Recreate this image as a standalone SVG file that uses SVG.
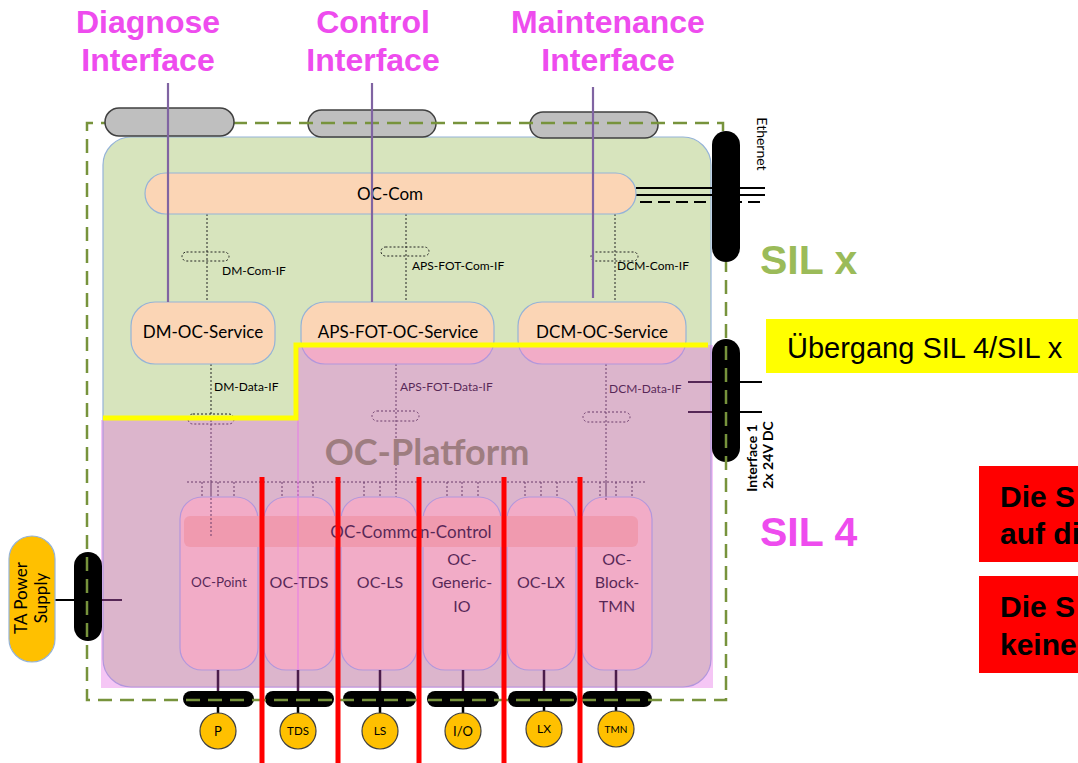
<svg xmlns="http://www.w3.org/2000/svg" width="1078" height="763" viewBox="0 0 1078 763">
<defs>
<style>
.lbl{font-family:Lato,"Open Sans","Liberation Sans",sans-serif;fill:#000}
.t17{font-size:17px}
.t16{font-size:16px}
.t12{font-size:12px}
.title{font-family:"Liberation Sans",Arial,sans-serif;font-weight:bold;font-size:32px;fill:#ee4cee;text-anchor:middle}
.peach{fill:#fbd5b5;stroke:#95b3d7;stroke-width:1.2}
.grey{fill:#bfbfbf;stroke:#404040;stroke-width:1.5}
.dot{stroke:#222;stroke-width:1;stroke-dasharray:2 2;fill:none}
.blk{fill:#000}
.ifl{stroke:#8064a2;stroke-width:2.2}
.red{stroke:#ff0000;stroke-width:5}
.circ{fill:#ffc000;stroke:#404040;stroke-width:1.2}
.ctext{font-family:Lato,"Open Sans",sans-serif;fill:#000;text-anchor:middle}
.mid{text-anchor:middle}
.small{font-family:Lato,"Open Sans",sans-serif;font-size:14px;text-anchor:middle;fill:#000}
.note{font-family:"Liberation Sans",Arial,sans-serif;font-weight:bold;font-size:30px;fill:#000}
</style>
</defs>
<rect width="1078" height="763" fill="#fff"/>

<!-- green SIL x area -->
<rect id="silx-area" x="103" y="137" width="608" height="550" rx="28" fill="#d7e4bd" stroke="#95b3d7" stroke-width="1.2"/>

<!-- connectors under overlay -->
<g id="connectors">
  <line x1="636" y1="188" x2="765" y2="188" stroke="#000" stroke-width="2"/>
  <line x1="636" y1="195" x2="765" y2="195" stroke="#000" stroke-width="2"/>
  <line x1="640" y1="202" x2="765" y2="202" stroke="#000" stroke-width="2" stroke-dasharray="12 6"/>
  <line class="dot" x1="207" y1="214" x2="207" y2="302"/>
  <rect class="dot" x="182" y="252" width="47" height="9" rx="4.5"/>
  <line class="dot" x1="406" y1="214" x2="406" y2="302"/>
  <rect class="dot" x="381" y="247" width="48" height="9" rx="4.5"/>
  <line class="dot" x1="615" y1="214" x2="615" y2="302"/>
  <rect class="dot" x="591" y="252" width="47" height="9" rx="4.5"/>
  <line class="dot" x1="211" y1="364" x2="211" y2="536"/>
  <rect class="dot" x="188" y="414" width="46" height="10" rx="5"/>
  <line class="dot" x1="396" y1="364" x2="396" y2="497"/>
  <rect class="dot" x="372" y="411" width="47" height="10" rx="5"/>
  <line class="dot" x1="606" y1="364" x2="606" y2="500"/>
  <rect class="dot" x="583" y="412" width="47" height="10" rx="5"/>
  <line class="dot" x1="187" y1="482" x2="646" y2="482"/>
  <path class="dot" d="M202,482V497M218,482V497M234,482V497M282,482V497M298,482V497M313,482V497M364,482V497M380,482V497M447,482V497M462,482V497M478,482V497M525,482V497M541,482V497M557,482V497M600,482V497M616,482V497M632,482V497"/>
  <line x1="688" y1="382" x2="762" y2="382" stroke="#000" stroke-width="2.2"/>
  <line x1="688" y1="412" x2="762" y2="412" stroke="#000" stroke-width="2.2"/>
  <line x1="55" y1="600" x2="122" y2="600" stroke="#000" stroke-width="2.2"/>
</g>

<g id="oc-com">
  <rect class="peach" x="145" y="173" width="491" height="41" rx="20.5"/>
  <text class="lbl t17 mid" x="390" y="200">OC-Com</text>
</g>

<g id="dm-oc-service">
  <rect class="peach" x="131" y="302" width="144" height="62" rx="24"/>
  <text class="lbl t17 mid" x="203" y="338">DM-OC-Service</text>
</g>
<g id="aps-fot-oc-service">
  <rect class="peach" x="301" y="302" width="193" height="62" rx="24"/>
  <text class="lbl t17 mid" x="398" y="338">APS-FOT-OC-Service</text>
</g>
<g id="dcm-oc-service">
  <rect class="peach" x="518" y="302" width="168" height="62" rx="24"/>
  <text class="lbl t17 mid" x="602" y="338">DCM-OC-Service</text>
</g>

<g id="if-labels">
  <text class="lbl t12" x="222" y="275">DM-Com-IF</text>
  <text class="lbl t12" x="412" y="270">APS-FOT-Com-IF</text>
  <text class="lbl t12" x="617" y="270">DCM-Com-IF</text>
  <text class="lbl t12" x="214" y="391">DM-Data-IF</text>
  <text class="lbl t12" x="400" y="391">APS-FOT-Data-IF</text>
  <text class="lbl t12" x="609" y="393">DCM-Data-IF</text>
</g>

<g id="modules">
  <g id="oc-point"><rect class="peach" x="180" y="497" width="78" height="173" rx="22"/></g>
  <g id="oc-tds"><rect class="peach" x="264" y="497" width="71" height="173" rx="22"/></g>
  <g id="oc-ls"><rect class="peach" x="341" y="497" width="76" height="173" rx="22"/></g>
  <g id="oc-generic-io"><rect class="peach" x="423" y="497" width="78" height="173" rx="22"/></g>
  <g id="oc-lx"><rect class="peach" x="507" y="497" width="69" height="173" rx="22"/></g>
  <g id="oc-block-tmn"><rect class="peach" x="582" y="497" width="70" height="173" rx="22"/></g>
  <g id="oc-common-control">
    <rect x="184" y="516" width="454" height="31" rx="6" fill="#f7b98f"/>
    <text class="lbl t17 mid" x="411" y="538">OC-Common-Control</text>
  </g>
  <line class="dot" x1="211" y1="482" x2="211" y2="536"/>
  <line class="dot" x1="606" y1="482" x2="606" y2="500"/>
  <text class="lbl mid" font-size="13.5" x="219" y="587">OC-Point</text>
  <text class="lbl t16 mid" x="299" y="588">OC-TDS</text>
  <text class="lbl t16 mid" x="380" y="588">OC-LS</text>
  <text class="lbl t16 mid" x="462" y="565">OC-</text>
  <text class="lbl t16 mid" x="462" y="588">Generic-</text>
  <text class="lbl t16 mid" x="462" y="612">IO</text>
  <text class="lbl t16 mid" x="541" y="588">OC-LX</text>
  <text class="lbl t16 mid" x="617" y="565">OC-</text>
  <text class="lbl t16 mid" x="617" y="588">Block-</text>
  <text class="lbl t16 mid" x="617" y="612">TMN</text>
</g>

<g id="oc-platform">
  <path d="M101,420H298V345H713V688H101Z" fill="rgb(228,103,228)" fill-opacity="0.375"/>
  <line x1="298" y1="345" x2="298" y2="688" stroke="#e77be7" stroke-width="1"/>
  <path d="M103,418H296V345H708" fill="none" stroke="#ffff00" stroke-width="5"/>
  <text x="427" y="465" font-family="Lato,'Open Sans',sans-serif" font-weight="bold" font-size="36" fill="#9e7d80" text-anchor="middle">OC-Platform</text>
</g>

<g id="bottom-links" stroke-width="2.5">
  <path d="M218,670V691M298,670V691M380,670V691M463,670V691M544,670V691M616,670V691" stroke="#4b1d4b"/>
  <path d="M218,707V713M298,707V713M380,707V713M463,707V713M544,707V711M616,707V711" stroke="#000"/>
</g>
<g id="bus-pills">
  <rect class="blk" x="183" y="691" width="71" height="16" rx="8"/>
  <rect class="blk" x="265" y="691" width="69" height="16" rx="8"/>
  <rect class="blk" x="343" y="691" width="73" height="16" rx="8"/>
  <rect class="blk" x="427" y="691" width="72" height="16" rx="8"/>
  <rect class="blk" x="508" y="691" width="69" height="16" rx="8"/>
  <rect class="blk" x="582" y="691" width="70" height="16" rx="8"/>
</g>
<g id="port-p"><circle class="circ" cx="218" cy="731" r="18"/><text class="ctext" font-size="13" x="218" y="736">P</text></g>
<g id="port-tds"><circle class="circ" cx="298" cy="731" r="18"/><text class="ctext" font-size="11.5" x="298" y="735">TDS</text></g>
<g id="port-ls"><circle class="circ" cx="380" cy="731" r="18"/><text class="ctext" font-size="12" x="380" y="735">LS</text></g>
<g id="port-io"><circle class="circ" cx="463" cy="731" r="18"/><text class="ctext" font-size="13" x="463" y="736">I/O</text></g>
<g id="port-lx"><circle class="circ" cx="544" cy="729" r="18"/><text class="ctext" font-size="12" x="544" y="733">LX</text></g>
<g id="port-tmn"><circle class="circ" cx="616" cy="729" r="18"/><text class="ctext" font-size="10" x="616" y="733">TMN</text></g>

<g id="ta-power-supply">
  <rect x="9" y="536" width="46" height="126" rx="23" fill="#ffc000" stroke="#95b3d7" stroke-width="1.2"/>
  <text class="lbl mid" font-size="17" transform="translate(27,598) rotate(-90)">TA Power</text>
  <text class="lbl mid" font-size="17" transform="translate(47,598) rotate(-90)">Supply</text>
</g>
<g id="power-connector"><rect class="blk" x="74" y="552" width="28" height="89" rx="14"/></g>
<g id="interface-1">
  <rect class="blk" x="712" y="339" width="28" height="123" rx="14"/>
  <text class="small" font-weight="bold" transform="translate(757,458) rotate(-90)">Interface 1</text>
  <text class="small" font-weight="bold" transform="translate(773,455) rotate(-90)">2x 24V DC</text>
</g>

<g id="grey-2"><rect class="grey" x="308" y="110" width="128" height="27" rx="13.5"/></g>
<g id="grey-3"><rect class="grey" x="530" y="112" width="128" height="26" rx="13"/></g>

<path id="enclosure" d="M723,131V123H87V700H726V262" fill="none" stroke="#77933c" stroke-width="2.5" stroke-dasharray="14 8"/>

<g id="grey-1"><rect class="grey" x="105" y="108" width="129" height="28" rx="14"/></g>
<g id="ethernet">
  <rect class="blk" x="712" y="131" width="28" height="131" rx="14"/>
  <text class="small" transform="translate(757,144) rotate(90)">Ethernet</text>
</g>

<g id="interface-lines">
  <line class="ifl" x1="168" y1="83" x2="168" y2="302"/>
  <line class="ifl" x1="372" y1="83" x2="372" y2="302"/>
  <line class="ifl" x1="593" y1="87" x2="593" y2="298"/>
</g>

<g id="red-lines">
  <line class="red" x1="262" y1="477" x2="262" y2="763"/>
  <line class="red" x1="338" y1="477" x2="338" y2="763"/>
  <line class="red" x1="419" y1="477" x2="419" y2="763"/>
  <line class="red" x1="504" y1="477" x2="504" y2="763"/>
  <line class="red" x1="580" y1="477" x2="580" y2="763"/>
</g>

<g id="titles">
  <text class="title" x="148" y="33">Diagnose</text>
  <text class="title" x="148" y="71">Interface</text>
  <text class="title" x="373" y="33">Control</text>
  <text class="title" x="373" y="71">Interface</text>
  <text class="title" x="608" y="33">Maintenance</text>
  <text class="title" x="608" y="71">Interface</text>
</g>

<g id="sil-labels" font-family="'Liberation Sans',Arial,sans-serif" font-weight="bold" font-size="41">
  <text x="760" y="274" fill="#9bbb59">SIL x</text>
  <text x="760" y="546" fill="#ee4cee">SIL 4</text>
</g>

<g id="uebergang">
  <rect x="766" y="319" width="312" height="54" fill="#ffff00"/>
  <text x="787" y="358" font-family="'Liberation Sans',Arial,sans-serif" font-size="29" fill="#000">Übergang SIL 4/SIL x</text>
</g>

<g id="note-1">
  <rect x="979" y="466" width="99" height="96" fill="#ff0000"/>
  <text class="note" x="1000" y="507">Die S</text>
  <text class="note" x="1000" y="544">auf di</text>
</g>
<g id="note-2">
  <rect x="979" y="576" width="99" height="97" fill="#ff0000"/>
  <text class="note" x="1000" y="617">Die S</text>
  <text class="note" x="1000" y="655">keine</text>
</g>
</svg>
